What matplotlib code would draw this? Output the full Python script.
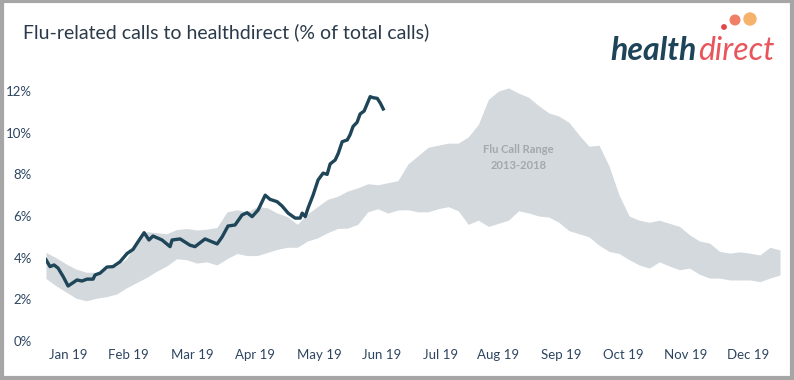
import matplotlib.pyplot as plt
from matplotlib.patches import Rectangle, Circle

plt.rcParams['font.family'] = ['Lato', 'DejaVu Sans']

# band of flu call share 2013-2018, sampled every 5 days (day of year)
band_days = list(range(0, 366, 5))
band_high = [4.25, 4.0, 3.7, 3.45, 3.3, 3.3, 3.45, 3.6, 3.95, 4.7,
             5.25, 5.2, 5.15, 5.35, 5.4, 5.33, 5.37, 5.45, 6.2, 6.3,
             6.2, 6.45, 6.4, 6.14, 5.97, 5.6, 6.1, 6.45, 6.8, 6.95,
             7.2, 7.35, 7.55, 7.5, 7.6, 7.7, 8.5, 8.9, 9.3, 9.4,
             9.5, 9.5, 9.8, 10.4, 11.6, 12.0, 12.15, 11.9, 11.7, 11.3,
             10.95, 10.8, 10.5, 9.9, 9.35, 9.4, 8.4, 7.0, 6.0, 5.8,
             5.7, 5.8, 5.65, 5.5, 5.1, 4.8, 4.7, 4.3, 4.22, 4.28,
             4.22, 4.13, 4.5, 4.37]
band_low = [3.0, 2.65, 2.35, 2.05, 1.93, 2.05, 2.13, 2.25, 2.55, 2.8,
            3.05, 3.35, 3.6, 3.95, 3.9, 3.74, 3.8, 3.65, 3.95, 4.2,
            4.1, 4.1, 4.25, 4.4, 4.5, 4.5, 4.8, 4.95, 5.2, 5.4,
            5.42, 5.6, 6.2, 6.35, 6.14, 6.29, 6.3, 6.2, 6.2, 6.35,
            6.45, 6.25, 5.6, 5.8, 5.5, 5.65, 5.8, 6.25, 6.15, 6.0,
            5.95, 5.7, 5.3, 5.15, 5.0, 4.6, 4.3, 4.2, 3.9, 3.65,
            3.5, 3.8, 3.6, 3.42, 3.5, 3.2, 3.02, 3.02, 2.93, 2.93,
            2.93, 2.85, 3.02, 3.17]

# 2019 calls
days_2019 = [0, 2, 4, 6, 8.5, 11, 15.4, 17.9, 20.4, 23.4, 24.4, 26.9, 30.3,
             33.3, 36.8, 40.3, 43.3, 45.8, 48.8, 51.2, 53.2, 57.7, 61.7,
             62.7, 66.7, 71.6, 74.1, 79.1, 85.1, 87.6, 90.5, 94.0, 97.5,
             100, 102.5, 105.5, 109, 111.4, 114.9, 117.4, 120.4, 123.9,
             126.4, 127.4, 128.9, 130.3, 132.8, 135.3, 137.8, 139.8, 141.3,
             143.8, 145.3, 147.3, 149.8, 151.2, 152.7, 154.7, 156.2, 158.2,
             161.2, 162.7, 164.7, 166.2, 167.7]
calls_2019 = [3.9, 3.57, 3.65, 3.5, 3.1, 2.64, 2.93, 2.88, 2.97, 2.97, 3.17,
              3.26, 3.55, 3.57, 3.8, 4.2, 4.4, 4.77, 5.2, 4.85, 5.04, 4.85,
              4.53, 4.85, 4.9, 4.6, 4.53, 4.9, 4.66, 5.0, 5.52, 5.57, 6.05,
              6.16, 5.97, 6.29, 7.0, 6.8, 6.69, 6.48, 6.14, 5.9, 5.9, 6.14,
              5.97, 6.38, 7.0, 7.73, 8.06, 8.0, 8.5, 8.69, 9.0, 9.57, 9.65,
              9.9, 10.3, 10.5, 10.9, 11.04, 11.73, 11.68, 11.65, 11.43, 11.14]

tick_days = [11, 41, 73, 104, 136, 167, 196, 225, 256, 287, 318, 349]
tick_labels = ['Jan 19', 'Feb 19', 'Mar 19', 'Apr 19', 'May 19', 'Jun 19',
               'Jul 19', 'Aug 19', 'Sep 19', 'Oct 19', 'Nov 19', 'Dec 19']
y_ticks = [0, 2, 4, 6, 8, 10, 12]

W, H = 794, 380
fig = plt.figure(figsize=(W / 100, H / 100), dpi=100)
ax = fig.add_axes([46 / W, (H - 341) / H, (780 - 46) / W, (341 - 84.8) / H])

ax.fill_between(band_days, band_low, band_high, color='#d3d9dd', lw=0)
ax.plot(days_2019, calls_2019, color='#1e4558', lw=2.4, solid_joinstyle='round')
ax.text(235, 8.8, 'Flu Call Range\n2013-2018', ha='center', va='center',
        fontsize=8, fontweight='bold', color='#a3a8ac', linespacing=1.5)

ax.set_xlim(0, 365)
ax.set_ylim(0, 12.3)
ax.set_xticks(tick_days)
ax.set_xticklabels(tick_labels)
ax.set_yticks(y_ticks)
ax.set_yticklabels([f'{v}%' for v in y_ticks])
ax.tick_params(length=0, labelsize=9.5, colors='#2d4560')
ax.tick_params(axis='y', pad=10)
ax.tick_params(axis='x', pad=6)
for s in ax.spines.values():
    s.set_visible(False)

fig.text(23 / W, 1 - 32 / H, 'Flu-related calls to healthdirect (% of total calls)',
         fontsize=14, color='#2b3a4a', va='center', ha='left')

# logo
fig.text(697 / W, 1 - 60 / H, 'health', fontsize=23, fontweight='bold',
         fontstyle='italic', color='#1d4459', ha='right', va='baseline')
fig.text(698 / W, 1 - 60 / H, 'direct', fontsize=23, fontstyle='italic',
         color='#e8555a', ha='left', va='baseline')
for cx, cy, r, c in [(724, 27, 2.2, '#e0474c'), (735, 20, 4.8, '#f07f66'),
                     (750, 19, 6.0, '#f5b26b')]:
    fig.patches.append(Circle((cx, H - cy), r, transform=None, color=c))

fig.patches.append(Rectangle((0.002, 0.004), 0.995, 0.994, transform=fig.transFigure,
                             fill=False, edgecolor='#a6a6a6', lw=3))

fig.savefig('out.png', dpi=100)
